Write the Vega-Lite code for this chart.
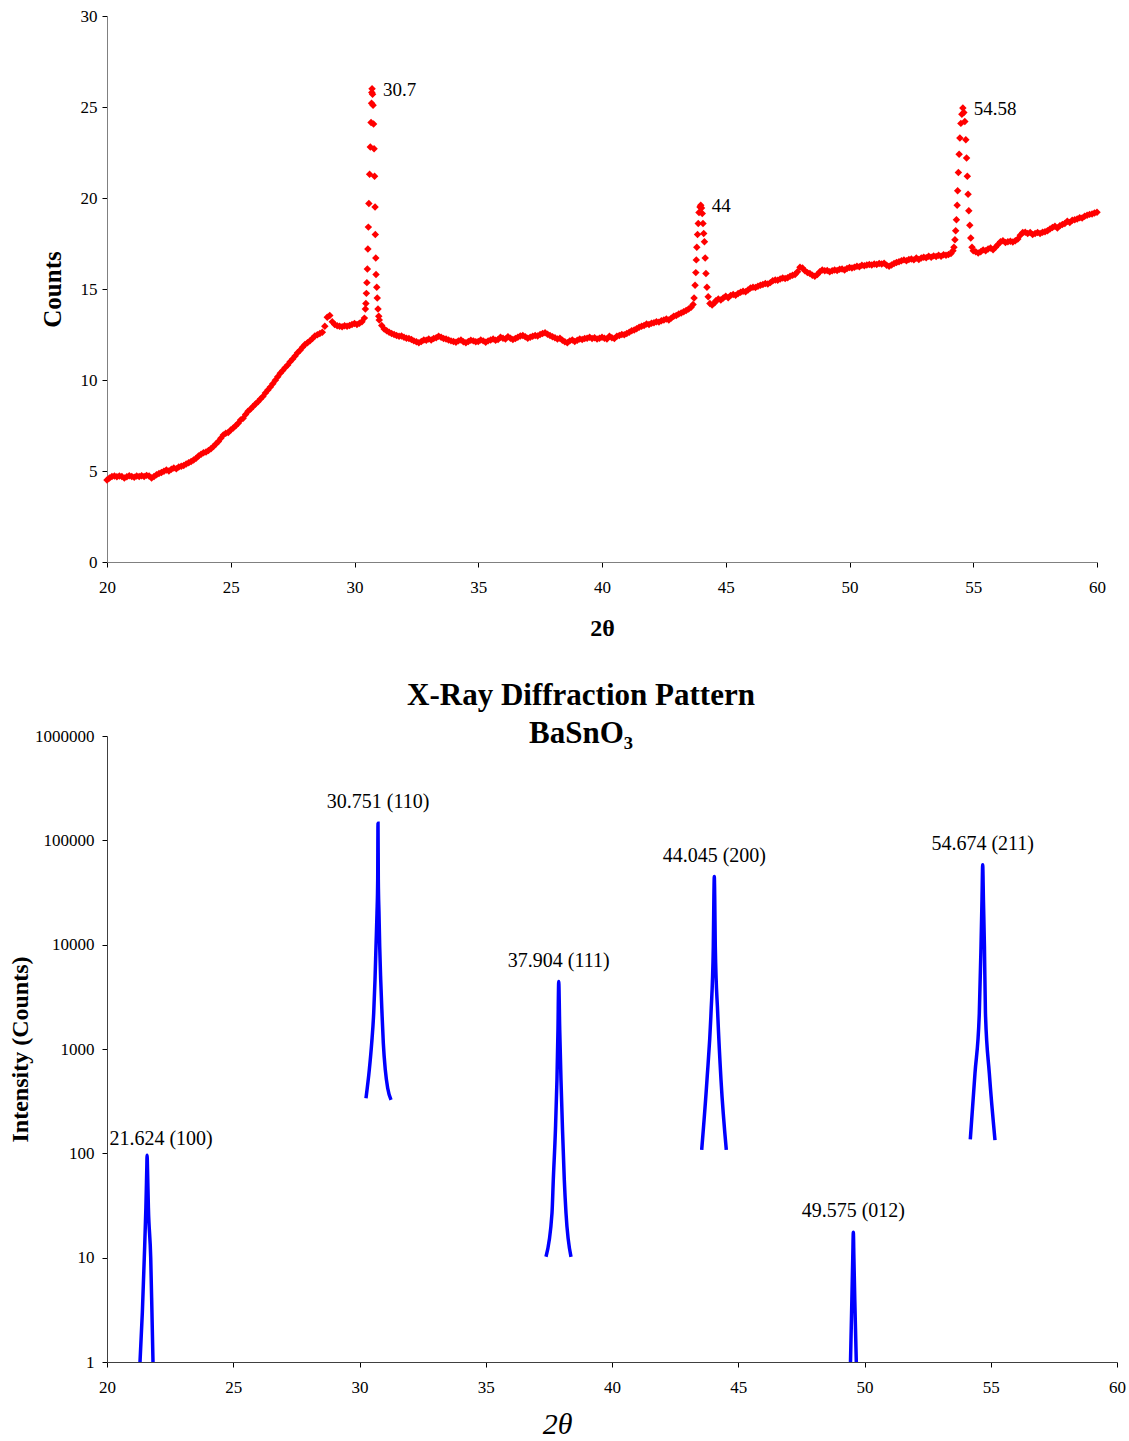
{
"$schema":"https://vega.github.io/schema/vega-lite/v6.json",
"background":"white",
"padding":{"left":8,"top":7,"right":8,"bottom":0},
"spacing":40,
"config":{"view":{"stroke":null},"axis":{"grid":false,"labelFont":"Liberation Serif","titleFont":"Liberation Serif","labelColor":"#000","titleColor":"#000","labelFontSize":17,"tickSize":5,"labelFlush":false},"title":{"font":"Liberation Serif","color":"#000"},"text":{"font":"Liberation Serif","color":"#000"}},
"vconcat":[
{
"width":990,"height":546,
"layer":[
{"data":{"values":[
{"angle":20,"counts":4.5},{"angle":20.1,"counts":4.62},{"angle":20.2,"counts":4.7},{"angle":20.3,"counts":4.72},{"angle":20.4,"counts":4.68},{"angle":20.5,"counts":4.73},{"angle":20.6,"counts":4.7},{"angle":20.7,"counts":4.62},{"angle":20.8,"counts":4.68},{"angle":20.9,"counts":4.74},
{"angle":21,"counts":4.7},{"angle":21.1,"counts":4.66},{"angle":21.2,"counts":4.72},{"angle":21.3,"counts":4.7},{"angle":21.4,"counts":4.74},{"angle":21.5,"counts":4.7},{"angle":21.6,"counts":4.76},{"angle":21.7,"counts":4.73},{"angle":21.8,"counts":4.62},{"angle":21.9,"counts":4.7},
{"angle":22,"counts":4.8},{"angle":22.1,"counts":4.86},{"angle":22.2,"counts":4.92},{"angle":22.3,"counts":4.98},{"angle":22.4,"counts":5.05},{"angle":22.5,"counts":5.0},{"angle":22.6,"counts":5.1},{"angle":22.7,"counts":5.16},{"angle":22.8,"counts":5.12},{"angle":22.9,"counts":5.22},
{"angle":23,"counts":5.26},{"angle":23.1,"counts":5.3},{"angle":23.2,"counts":5.38},{"angle":23.3,"counts":5.45},{"angle":23.4,"counts":5.52},{"angle":23.5,"counts":5.6},{"angle":23.6,"counts":5.7},{"angle":23.7,"counts":5.82},{"angle":23.8,"counts":5.92},{"angle":23.9,"counts":6.0},
{"angle":24,"counts":6.05},{"angle":24.1,"counts":6.12},{"angle":24.2,"counts":6.22},{"angle":24.3,"counts":6.34},{"angle":24.4,"counts":6.48},{"angle":24.5,"counts":6.62},{"angle":24.6,"counts":6.8},{"angle":24.7,"counts":6.98},{"angle":24.8,"counts":7.08},{"angle":24.9,"counts":7.12},
{"angle":25,"counts":7.25},{"angle":25.1,"counts":7.36},{"angle":25.2,"counts":7.48},{"angle":25.3,"counts":7.62},{"angle":25.4,"counts":7.8},{"angle":25.5,"counts":7.9},{"angle":25.6,"counts":8.1},{"angle":25.7,"counts":8.28},{"angle":25.8,"counts":8.4},{"angle":25.9,"counts":8.55},
{"angle":26,"counts":8.68},{"angle":26.1,"counts":8.8},{"angle":26.2,"counts":8.95},{"angle":26.3,"counts":9.1},{"angle":26.4,"counts":9.28},{"angle":26.5,"counts":9.45},{"angle":26.6,"counts":9.62},{"angle":26.7,"counts":9.8},{"angle":26.8,"counts":9.98},{"angle":26.9,"counts":10.18},
{"angle":27,"counts":10.37},{"angle":27.1,"counts":10.52},{"angle":27.2,"counts":10.68},{"angle":27.3,"counts":10.82},{"angle":27.4,"counts":11.0},{"angle":27.5,"counts":11.15},{"angle":27.6,"counts":11.32},{"angle":27.7,"counts":11.5},{"angle":27.8,"counts":11.64},{"angle":27.9,"counts":11.8},
{"angle":28,"counts":11.95},{"angle":28.1,"counts":12.05},{"angle":28.2,"counts":12.15},{"angle":28.3,"counts":12.28},{"angle":28.4,"counts":12.42},{"angle":28.5,"counts":12.48},{"angle":28.6,"counts":12.55},{"angle":28.7,"counts":12.62},{"angle":28.8,"counts":12.95},{"angle":28.9,"counts":13.45},
{"angle":29,"counts":13.55},{"angle":29.1,"counts":13.2},{"angle":29.2,"counts":13.05},{"angle":29.3,"counts":12.98},{"angle":29.4,"counts":12.95},{"angle":29.5,"counts":12.92},{"angle":29.6,"counts":12.98},{"angle":29.7,"counts":12.95},{"angle":29.8,"counts":13.0},{"angle":29.9,"counts":13.05},
{"angle":30,"counts":13.1},{"angle":30.1,"counts":13.05},{"angle":30.2,"counts":13.12},{"angle":30.3,"counts":13.2},{"angle":30.4,"counts":13.4},
{"angle":30.44,"counts":13.9},{"angle":30.46,"counts":14.2},{"angle":30.48,"counts":14.76},{"angle":30.5,"counts":15.35},{"angle":30.52,"counts":16.1},{"angle":30.54,"counts":17.2},{"angle":30.56,"counts":18.4},{"angle":30.58,"counts":19.7},{"angle":30.61,"counts":21.3},{"angle":30.64,"counts":22.8},{"angle":30.67,"counts":24.15},{"angle":30.69,"counts":25.2},{"angle":30.7,"counts":25.8},{"angle":30.71,"counts":26.0},
{"angle":30.73,"counts":25.7},{"angle":30.75,"counts":25.1},{"angle":30.77,"counts":24.07},{"angle":30.79,"counts":22.7},{"angle":30.81,"counts":21.2},{"angle":30.83,"counts":19.5},{"angle":30.84,"counts":18.0},{"angle":30.86,"counts":16.7},{"angle":30.87,"counts":15.8},{"angle":30.9,"counts":15.1},{"angle":30.92,"counts":14.5},{"angle":30.95,"counts":13.9},{"angle":30.98,"counts":13.5},{"angle":31,"counts":13.3},
{"angle":31.1,"counts":13.0},{"angle":31.2,"counts":12.8},{"angle":31.3,"counts":12.7},{"angle":31.4,"counts":12.62},{"angle":31.5,"counts":12.55},{"angle":31.6,"counts":12.5},{"angle":31.7,"counts":12.45},{"angle":31.8,"counts":12.4},{"angle":31.9,"counts":12.42},
{"angle":32,"counts":12.35},{"angle":32.1,"counts":12.3},{"angle":32.2,"counts":12.28},{"angle":32.3,"counts":12.22},{"angle":32.4,"counts":12.15},{"angle":32.5,"counts":12.1},{"angle":32.6,"counts":12.05},{"angle":32.7,"counts":12.12},{"angle":32.8,"counts":12.2},{"angle":32.9,"counts":12.18},
{"angle":33,"counts":12.25},{"angle":33.1,"counts":12.2},{"angle":33.2,"counts":12.28},{"angle":33.3,"counts":12.32},{"angle":33.4,"counts":12.4},{"angle":33.5,"counts":12.35},{"angle":33.6,"counts":12.28},{"angle":33.7,"counts":12.25},{"angle":33.8,"counts":12.2},{"angle":33.9,"counts":12.15},
{"angle":34,"counts":12.12},{"angle":34.1,"counts":12.08},{"angle":34.2,"counts":12.15},{"angle":34.3,"counts":12.2},{"angle":34.4,"counts":12.1},{"angle":34.5,"counts":12.05},{"angle":34.6,"counts":12.12},{"angle":34.7,"counts":12.18},{"angle":34.8,"counts":12.15},{"angle":34.9,"counts":12.1},
{"angle":35,"counts":12.12},{"angle":35.1,"counts":12.2},{"angle":35.2,"counts":12.15},{"angle":35.3,"counts":12.08},{"angle":35.4,"counts":12.15},{"angle":35.5,"counts":12.2},{"angle":35.6,"counts":12.25},{"angle":35.7,"counts":12.18},{"angle":35.8,"counts":12.22},{"angle":35.9,"counts":12.35},
{"angle":36,"counts":12.3},{"angle":36.1,"counts":12.25},{"angle":36.2,"counts":12.38},{"angle":36.3,"counts":12.3},{"angle":36.4,"counts":12.22},{"angle":36.5,"counts":12.28},{"angle":36.6,"counts":12.35},{"angle":36.7,"counts":12.42},{"angle":36.8,"counts":12.45},{"angle":36.9,"counts":12.38},
{"angle":37,"counts":12.3},{"angle":37.1,"counts":12.35},{"angle":37.2,"counts":12.4},{"angle":37.3,"counts":12.45},{"angle":37.4,"counts":12.42},{"angle":37.5,"counts":12.5},{"angle":37.6,"counts":12.55},{"angle":37.7,"counts":12.6},{"angle":37.8,"counts":12.52},{"angle":37.9,"counts":12.45},
{"angle":38,"counts":12.38},{"angle":38.1,"counts":12.32},{"angle":38.2,"counts":12.25},{"angle":38.3,"counts":12.3},{"angle":38.4,"counts":12.18},{"angle":38.5,"counts":12.1},{"angle":38.6,"counts":12.05},{"angle":38.7,"counts":12.15},{"angle":38.8,"counts":12.2},{"angle":38.9,"counts":12.12},
{"angle":39,"counts":12.18},{"angle":39.1,"counts":12.25},{"angle":39.2,"counts":12.22},{"angle":39.3,"counts":12.28},{"angle":39.4,"counts":12.3},{"angle":39.5,"counts":12.35},{"angle":39.6,"counts":12.28},{"angle":39.7,"counts":12.32},{"angle":39.8,"counts":12.25},{"angle":39.9,"counts":12.3},
{"angle":40,"counts":12.35},{"angle":40.1,"counts":12.3},{"angle":40.2,"counts":12.25},{"angle":40.3,"counts":12.4},{"angle":40.4,"counts":12.32},{"angle":40.5,"counts":12.28},{"angle":40.6,"counts":12.4},{"angle":40.7,"counts":12.45},{"angle":40.8,"counts":12.5},{"angle":40.9,"counts":12.48},
{"angle":41,"counts":12.55},{"angle":41.1,"counts":12.62},{"angle":41.2,"counts":12.7},{"angle":41.3,"counts":12.75},{"angle":41.4,"counts":12.82},{"angle":41.5,"counts":12.9},{"angle":41.6,"counts":12.95},{"angle":41.7,"counts":13.0},{"angle":41.8,"counts":13.08},{"angle":41.9,"counts":13.05},
{"angle":42,"counts":13.12},{"angle":42.1,"counts":13.15},{"angle":42.2,"counts":13.2},{"angle":42.3,"counts":13.18},{"angle":42.4,"counts":13.25},{"angle":42.5,"counts":13.3},{"angle":42.6,"counts":13.35},{"angle":42.7,"counts":13.3},{"angle":42.8,"counts":13.4},{"angle":42.9,"counts":13.5},
{"angle":43,"counts":13.55},{"angle":43.1,"counts":13.62},{"angle":43.2,"counts":13.68},{"angle":43.3,"counts":13.75},{"angle":43.4,"counts":13.82},{"angle":43.5,"counts":13.9},{"angle":43.6,"counts":14.0},{"angle":43.68,"counts":14.15},
{"angle":43.72,"counts":14.5},{"angle":43.76,"counts":15.2},{"angle":43.79,"counts":15.9},{"angle":43.81,"counts":16.6},{"angle":43.83,"counts":17.3},{"angle":43.86,"counts":18.0},{"angle":43.89,"counts":18.6},{"angle":43.92,"counts":19.2},{"angle":43.96,"counts":19.5},{"angle":43.99,"counts":19.6},
{"angle":44.02,"counts":19.45},{"angle":44.05,"counts":19.15},{"angle":44.08,"counts":18.6},{"angle":44.11,"counts":18.05},{"angle":44.14,"counts":17.6},{"angle":44.17,"counts":16.7},{"angle":44.2,"counts":15.85},{"angle":44.24,"counts":15.1},{"angle":44.29,"counts":14.58},{"angle":44.36,"counts":14.2},{"angle":44.45,"counts":14.12},
{"angle":44.55,"counts":14.25},{"angle":44.6,"counts":14.35},{"angle":44.7,"counts":14.45},{"angle":44.8,"counts":14.4},{"angle":44.9,"counts":14.5},
{"angle":45,"counts":14.6},{"angle":45.1,"counts":14.52},{"angle":45.2,"counts":14.65},{"angle":45.3,"counts":14.7},{"angle":45.4,"counts":14.65},{"angle":45.5,"counts":14.75},{"angle":45.6,"counts":14.82},{"angle":45.7,"counts":14.88},{"angle":45.8,"counts":14.85},{"angle":45.9,"counts":14.95},
{"angle":46,"counts":15.05},{"angle":46.1,"counts":15.1},{"angle":46.2,"counts":15.08},{"angle":46.3,"counts":15.15},{"angle":46.4,"counts":15.2},{"angle":46.5,"counts":15.25},{"angle":46.6,"counts":15.3},{"angle":46.7,"counts":15.28},{"angle":46.8,"counts":15.35},{"angle":46.9,"counts":15.45},
{"angle":47,"counts":15.5},{"angle":47.1,"counts":15.48},{"angle":47.2,"counts":15.55},{"angle":47.3,"counts":15.6},{"angle":47.4,"counts":15.58},{"angle":47.5,"counts":15.62},{"angle":47.6,"counts":15.7},{"angle":47.7,"counts":15.75},{"angle":47.8,"counts":15.8},{"angle":47.9,"counts":15.95},
{"angle":48,"counts":16.2},{"angle":48.1,"counts":16.15},{"angle":48.2,"counts":16.0},{"angle":48.3,"counts":15.9},{"angle":48.4,"counts":15.85},{"angle":48.5,"counts":15.75},{"angle":48.6,"counts":15.7},{"angle":48.7,"counts":15.8},{"angle":48.8,"counts":15.95},{"angle":48.9,"counts":16.05},
{"angle":49,"counts":16.0},{"angle":49.1,"counts":16.02},{"angle":49.2,"counts":15.95},{"angle":49.3,"counts":16.0},{"angle":49.4,"counts":16.05},{"angle":49.5,"counts":16.02},{"angle":49.6,"counts":16.08},{"angle":49.7,"counts":16.1},{"angle":49.8,"counts":16.05},{"angle":49.9,"counts":16.12},
{"angle":50,"counts":16.18},{"angle":50.1,"counts":16.15},{"angle":50.2,"counts":16.2},{"angle":50.3,"counts":16.25},{"angle":50.4,"counts":16.22},{"angle":50.5,"counts":16.3},{"angle":50.6,"counts":16.28},{"angle":50.7,"counts":16.32},{"angle":50.8,"counts":16.35},{"angle":50.9,"counts":16.32},
{"angle":51,"counts":16.38},{"angle":51.1,"counts":16.35},{"angle":51.2,"counts":16.4},{"angle":51.3,"counts":16.38},{"angle":51.4,"counts":16.42},{"angle":51.5,"counts":16.3},{"angle":51.6,"counts":16.25},{"angle":51.7,"counts":16.32},{"angle":51.8,"counts":16.4},{"angle":51.9,"counts":16.45},
{"angle":52,"counts":16.5},{"angle":52.1,"counts":16.55},{"angle":52.2,"counts":16.6},{"angle":52.3,"counts":16.55},{"angle":52.4,"counts":16.62},{"angle":52.5,"counts":16.65},{"angle":52.6,"counts":16.6},{"angle":52.7,"counts":16.7},{"angle":52.8,"counts":16.62},{"angle":52.9,"counts":16.7},
{"angle":53,"counts":16.75},{"angle":53.1,"counts":16.72},{"angle":53.2,"counts":16.8},{"angle":53.3,"counts":16.75},{"angle":53.4,"counts":16.82},{"angle":53.5,"counts":16.78},{"angle":53.6,"counts":16.85},{"angle":53.7,"counts":16.8},{"angle":53.8,"counts":16.88},{"angle":53.9,"counts":16.85},
{"angle":54,"counts":16.9},{"angle":54.1,"counts":16.95},{"angle":54.18,"counts":17.1},
{"angle":54.22,"counts":17.3},{"angle":54.26,"counts":17.7},{"angle":54.29,"counts":18.2},{"angle":54.32,"counts":18.8},{"angle":54.35,"counts":19.6},{"angle":54.37,"counts":20.4},{"angle":54.4,"counts":21.4},{"angle":54.43,"counts":22.4},{"angle":54.46,"counts":23.3},{"angle":54.5,"counts":24.1},{"angle":54.54,"counts":24.6},{"angle":54.58,"counts":24.95},
{"angle":54.62,"counts":24.7},{"angle":54.66,"counts":24.2},{"angle":54.7,"counts":23.2},{"angle":54.73,"counts":22.2},{"angle":54.76,"counts":21.2},{"angle":54.79,"counts":20.2},{"angle":54.82,"counts":19.3},{"angle":54.86,"counts":18.5},{"angle":54.9,"counts":17.8},{"angle":54.95,"counts":17.3},{"angle":55,"counts":17.1},
{"angle":55.1,"counts":17.05},{"angle":55.2,"counts":16.98},{"angle":55.3,"counts":17.05},{"angle":55.4,"counts":17.15},{"angle":55.5,"counts":17.1},{"angle":55.6,"counts":17.2},{"angle":55.7,"counts":17.25},{"angle":55.8,"counts":17.15},{"angle":55.9,"counts":17.3},
{"angle":56,"counts":17.45},{"angle":56.1,"counts":17.6},{"angle":56.2,"counts":17.65},{"angle":56.3,"counts":17.55},{"angle":56.4,"counts":17.6},{"angle":56.5,"counts":17.62},{"angle":56.6,"counts":17.58},{"angle":56.7,"counts":17.65},{"angle":56.8,"counts":17.75},{"angle":56.9,"counts":17.95},
{"angle":57,"counts":18.1},{"angle":57.1,"counts":18.12},{"angle":57.2,"counts":18.05},{"angle":57.3,"counts":18.1},{"angle":57.4,"counts":18.0},{"angle":57.5,"counts":18.05},{"angle":57.6,"counts":18.1},{"angle":57.7,"counts":18.05},{"angle":57.8,"counts":18.12},{"angle":57.9,"counts":18.15},
{"angle":58,"counts":18.2},{"angle":58.1,"counts":18.3},{"angle":58.2,"counts":18.38},{"angle":58.3,"counts":18.45},{"angle":58.4,"counts":18.35},{"angle":58.5,"counts":18.48},{"angle":58.6,"counts":18.55},{"angle":58.7,"counts":18.6},{"angle":58.8,"counts":18.72},{"angle":58.9,"counts":18.65},
{"angle":59,"counts":18.78},{"angle":59.1,"counts":18.8},{"angle":59.2,"counts":18.85},{"angle":59.3,"counts":18.92},{"angle":59.4,"counts":18.9},{"angle":59.5,"counts":19.0},{"angle":59.6,"counts":19.05},{"angle":59.7,"counts":19.1},{"angle":59.8,"counts":19.12},{"angle":59.9,"counts":19.18},
{"angle":60,"counts":19.22}
]},
"mark":{"type":"point","shape":"diamond","filled":true,"color":"#FF0000","size":56,"opacity":1},
"encoding":{
"x":{"field":"angle","type":"quantitative","scale":{"domain":[20,60],"nice":false,"zero":false},"axis":{"title":"2θ","titleFontSize":24,"titleFontWeight":"bold","values":[20,25,30,35,40,45,50,55,60],"labelPadding":12,"titlePadding":21,"domainColor":"#808080","tickColor":"#000"}},
"y":{"field":"counts","type":"quantitative","scale":{"domain":[0,30],"nice":false},"axis":{"title":"Counts","titleFontSize":25,"titleFontWeight":"bold","values":[0,5,10,15,20,25,30],"labelPadding":5,"titlePadding":15,"domainColor":"#808080","tickColor":"#000"}}
}},
{"data":{"values":[{"angle":30.71,"counts":26.0,"label":"30.7"},{"angle":43.99,"counts":19.6,"label":"44"},{"angle":54.58,"counts":24.95,"label":"54.58"}]},
"mark":{"type":"text","align":"left","baseline":"middle","dx":11,"dy":1,"fontSize":19},
"encoding":{"x":{"field":"angle","type":"quantitative"},"y":{"field":"counts","type":"quantitative"},"text":{"field":"label"}}}
]
},
{
"width":1010,"height":626,
"title":{"text":["X-Ray Diffraction Pattern","BaSnO₃"],"fontSize":31,"fontWeight":"bold","anchor":"middle","dx":-31,"lineHeight":38,"offset":-23},
"layer":[
{"data":{"values":[
{"peak":"100","angle":21.307,"intensity":1},{"peak":"100","angle":21.4,"intensity":3},{"peak":"100","angle":21.477,"intensity":10},{"peak":"100","angle":21.54,"intensity":30},{"peak":"100","angle":21.575,"intensity":70},{"peak":"100","angle":21.588,"intensity":96},{"peak":"100","angle":21.605,"intensity":70},{"peak":"100","angle":21.64,"intensity":30},{"peak":"100","angle":21.731,"intensity":10},{"peak":"100","angle":21.78,"intensity":3},{"peak":"100","angle":21.822,"intensity":1},
{"peak":"110","angle":30.257,"intensity":337},{"peak":"110","angle":30.388,"intensity":630},{"peak":"110","angle":30.483,"intensity":1137},{"peak":"110","angle":30.562,"intensity":2205},{"peak":"110","angle":30.614,"intensity":4600},{"peak":"110","angle":30.653,"intensity":9590},{"peak":"110","angle":30.693,"intensity":20000},{"peak":"110","angle":30.721,"intensity":41800},{"peak":"110","angle":30.733,"intensity":146000},
{"peak":"110","angle":30.745,"intensity":41800},{"peak":"110","angle":30.772,"intensity":20000},{"peak":"110","angle":30.8,"intensity":9590},{"peak":"110","angle":30.84,"intensity":4600},{"peak":"110","angle":30.891,"intensity":2205},{"peak":"110","angle":30.943,"intensity":1137},{"peak":"110","angle":31.022,"intensity":630},{"peak":"110","angle":31.117,"intensity":420},{"peak":"110","angle":31.248,"intensity":325},
{"peak":"111","angle":37.386,"intensity":10.2},{"peak":"111","angle":37.624,"intensity":26.8},{"peak":"111","angle":37.675,"intensity":55.7},{"peak":"111","angle":37.76,"intensity":168},{"peak":"111","angle":37.82,"intensity":505},{"peak":"111","angle":37.86,"intensity":1520},{"peak":"111","angle":37.89,"intensity":4430},
{"peak":"111","angle":37.93,"intensity":1520},{"peak":"111","angle":37.98,"intensity":505},{"peak":"111","angle":38.04,"intensity":168},{"peak":"111","angle":38.111,"intensity":55.7},{"peak":"111","angle":38.178,"intensity":26.8},{"peak":"111","angle":38.376,"intensity":10.2},
{"peak":"200","angle":43.552,"intensity":108},{"peak":"200","angle":43.762,"intensity":506},{"peak":"200","angle":43.921,"intensity":2205},{"peak":"200","angle":44.012,"intensity":9590},{"peak":"200","angle":44.035,"intensity":28900},{"peak":"200","angle":44.052,"intensity":45000},
{"peak":"200","angle":44.068,"intensity":28900},{"peak":"200","angle":44.091,"intensity":9590},{"peak":"200","angle":44.186,"intensity":2205},{"peak":"200","angle":44.317,"intensity":506},{"peak":"200","angle":44.527,"intensity":108},
{"peak":"012","angle":49.445,"intensity":1},{"peak":"012","angle":49.5,"intensity":4},{"peak":"012","angle":49.535,"intensity":10},{"peak":"012","angle":49.558,"intensity":17.5},{"peak":"012","angle":49.58,"intensity":10},{"peak":"012","angle":49.615,"intensity":4},{"peak":"012","angle":49.675,"intensity":1},
{"peak":"211","angle":54.19,"intensity":136},{"peak":"211","angle":54.376,"intensity":586},{"peak":"211","angle":54.547,"intensity":2205},{"peak":"211","angle":54.614,"intensity":9590},{"peak":"211","angle":54.653,"intensity":26900},{"peak":"211","angle":54.681,"intensity":58200},
{"peak":"211","angle":54.71,"intensity":26900},{"peak":"211","angle":54.75,"intensity":9590},{"peak":"211","angle":54.79,"intensity":2205},{"peak":"211","angle":54.943,"intensity":586},{"peak":"211","angle":55.168,"intensity":134}
]},
"mark":{"type":"line","color":"#0000FF","strokeWidth":3.5,"interpolate":"monotone","clip":true},
"encoding":{
"x":{"field":"angle","type":"quantitative","scale":{"domain":[20,60],"nice":false,"zero":false},"axis":{"title":"2θ","titleFontSize":30,"titleFontStyle":"italic","titleFontWeight":"normal","titleX":450,"values":[20,25,30,35,40,45,50,55,60],"labelPadding":12,"titlePadding":14,"domainColor":"#404040","tickColor":"#000"}},
"y":{"field":"intensity","type":"quantitative","scale":{"type":"log","domain":[1,1000000],"nice":false},"axis":{"title":"Intensity (Counts)","titleFontSize":24,"titleFontWeight":"bold","values":[1,10,100,1000,10000,100000,1000000],"format":"d","labelPadding":8,"titlePadding":2,"domainColor":"#404040","tickColor":"#000"}},
"detail":{"field":"peak","type":"nominal"}
}},
{"data":{"values":[{"angle":21.588,"intensity":96,"label":"21.624 (100)"}]},
"mark":{"type":"text","align":"center","baseline":"middle","dx":14,"dy":-16,"fontSize":20},
"encoding":{"x":{"field":"angle","type":"quantitative"},"y":{"field":"intensity","type":"quantitative"},"text":{"field":"label"}}},
{"data":{"values":[{"angle":30.733,"intensity":146000,"label":"30.751 (110)"},{"angle":37.89,"intensity":4430,"label":"37.904 (111)"},{"angle":44.052,"intensity":45000,"label":"44.045 (200)"},{"angle":49.558,"intensity":17.5,"label":"49.575 (012)"},{"angle":54.681,"intensity":58200,"label":"54.674 (211)"}]},
"mark":{"type":"text","align":"center","baseline":"middle","dy":-21,"fontSize":20},
"encoding":{"x":{"field":"angle","type":"quantitative"},"y":{"field":"intensity","type":"quantitative"},"text":{"field":"label"}}}
]
}
]
}
